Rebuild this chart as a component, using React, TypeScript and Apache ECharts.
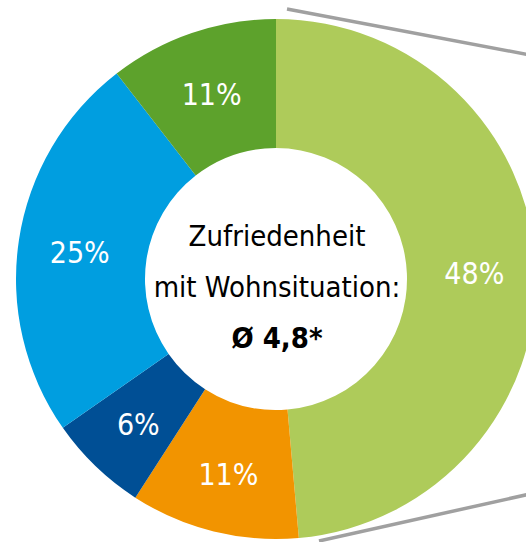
import React, { useEffect, useRef } from "react";
import * as echarts from "echarts";

const categories = ["Segment A", "Segment B", "Segment C", "Segment D", "Segment E"];
const shares = [48.6, 10.5, 6.2, 24.2, 10.5];
const labels = ["48%", "11%", "6%", "25%", "11%"];
const colors = ["#AECB5A", "#F29400", "#004F95", "#009EE0", "#5DA22C"];
const centerLines = ["Zufriedenheit", "mit Wohnsituation:", "Ø 4,8*"];

const FONT = "'DejaVu Sans Condensed', 'DejaVu Sans', Verdana, sans-serif";

export default function App() {
  const ref = useRef<HTMLDivElement>(null);
  useEffect(() => {
    if (!ref.current) return;
    const chart = echarts.init(ref.current, null, { renderer: "svg" });
    chart.setOption({
      animation: false,
      backgroundColor: "#ffffff",
      series: [
        {
          type: "pie",
          center: [276, 279],
          radius: [131, 260],
          startAngle: 90,
          clockwise: true,
          avoidLabelOverlap: false,
          silent: true,
          data: categories.map((name, i) => ({
            name,
            value: shares[i],
            itemStyle: { color: colors[i] },
            label: { formatter: labels[i] },
          })),
          label: {
            show: true,
            position: "inside",
            color: "#ffffff",
            fontFamily: FONT,
            fontSize: 30,
            fontWeight: "normal",
            offset: [0, 3],
          },
          labelLine: { show: false },
        },
      ],
      graphic: [
        {
          type: "line",
          shape: { x1: 287, y1: 9, x2: 530, y2: 55 },
          style: { stroke: "#A0A0A0", lineWidth: 3.5 },
          z: 10,
        },
        {
          type: "line",
          shape: { x1: 319, y1: 541, x2: 530, y2: 494 },
          style: { stroke: "#A0A0A0", lineWidth: 3.5 },
          z: 10,
        },
        {
          type: "text",
          x: 277,
          y: 236,
          style: {
            text: centerLines[0],
            fill: "#000000",
            font: `normal 29px ${FONT}`,
            textAlign: "center",
            textVerticalAlign: "middle",
          },
          z: 10,
        },
        {
          type: "text",
          x: 277,
          y: 287,
          style: {
            text: centerLines[1],
            fill: "#000000",
            font: `normal 29px ${FONT}`,
            textAlign: "center",
            textVerticalAlign: "middle",
          },
          z: 10,
        },
        {
          type: "text",
          x: 277,
          y: 338,
          style: {
            text: centerLines[2],
            fill: "#000000",
            font: `bold 29px ${FONT}`,
            textAlign: "center",
            textVerticalAlign: "middle",
          },
          z: 10,
        },
      ],
    });
    return () => chart.dispose();
  }, []);
  return (
    <div
      ref={ref}
      style={{ position: "fixed", left: 0, top: 0, width: 526, height: 542 }}
    />
  );
}
